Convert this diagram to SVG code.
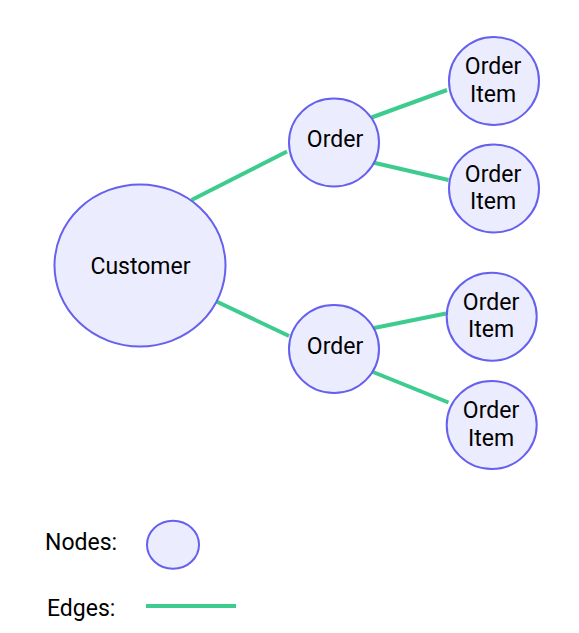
<svg xmlns="http://www.w3.org/2000/svg" width="579" height="633" viewBox="0 0 579 633">
<style>
.node{fill:#ECECFF;stroke:#6660EE;stroke-width:2}
.edge{stroke:#3ECC8E;stroke-width:4;fill:none}
text{font-family:Roboto,"Liberation Sans",sans-serif;font-size:23px;fill:#000;text-anchor:middle}
.lg{text-anchor:start}
</style>
<rect width="579" height="633" fill="#fff"/>
<g id="edges">
<line class="edge" x1="191.5" y1="200" x2="287" y2="151.5"/>
<line class="edge" x1="216.5" y1="301.5" x2="289" y2="336"/>
<line class="edge" x1="371.5" y1="117.5" x2="447" y2="90"/>
<line class="edge" x1="373" y1="162.5" x2="448.5" y2="180"/>
<line class="edge" x1="374" y1="328" x2="446" y2="313.5"/>
<line class="edge" x1="373" y1="372" x2="448.5" y2="402.5"/>
</g>
<g id="customer">
<ellipse class="node" cx="140" cy="265.5" rx="85.5" ry="81"/>
<text x="140.5" y="274">Customer</text>
</g>
<g id="order1">
<ellipse class="node" cx="334" cy="142.5" rx="45" ry="44"/>
<text x="335" y="147">Order</text>
</g>
<g id="order2">
<ellipse class="node" cx="334" cy="349" rx="45" ry="44"/>
<text x="335" y="354">Order</text>
</g>
<g id="item1">
<ellipse class="node" cx="494" cy="81" rx="45" ry="44"/>
<text x="493" y="74">Order</text>
<text x="493" y="101.5">Item</text>
</g>
<g id="item2">
<ellipse class="node" cx="494" cy="188.5" rx="45" ry="44"/>
<text x="493" y="181.5">Order</text>
<text x="493" y="209">Item</text>
</g>
<g id="item3">
<ellipse class="node" cx="491.7" cy="316.7" rx="45" ry="44"/>
<text x="491" y="309.5">Order</text>
<text x="491" y="337">Item</text>
</g>
<g id="item4">
<ellipse class="node" cx="491.7" cy="425" rx="45" ry="44"/>
<text x="491" y="418">Order</text>
<text x="491" y="445.5">Item</text>
</g>
<g id="legend">
<text class="lg" x="45" y="550">Nodes:</text>
<ellipse class="node" cx="173" cy="544.7" rx="26" ry="24"/>
<text class="lg" x="47" y="616">Edges:</text>
<line class="edge" x1="146" y1="606" x2="236" y2="606"/>
</g>
</svg>
